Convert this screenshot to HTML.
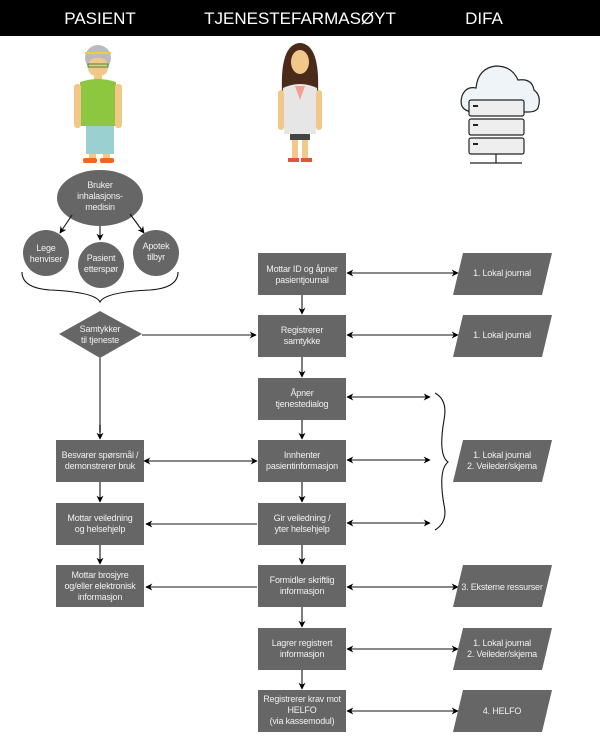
<!DOCTYPE html>
<html><head><meta charset="utf-8"><style>
html,body{margin:0;padding:0;background:#fff}
svg{display:block}
text{font-family:"Liberation Sans",sans-serif;}
.t{fill:#f0f0f0;font-size:9px;text-anchor:middle;letter-spacing:-0.2px}
.b{fill:#666}
.l{stroke:#111;stroke-width:1.1;fill:none}
.g{stroke:#666;stroke-width:1.6;fill:none}
</style></head><body>
<svg width="600" height="741" viewBox="0 0 600 741" xmlns="http://www.w3.org/2000/svg">
<defs>
<marker id="a" viewBox="0 0 10 10" refX="9" refY="5" markerWidth="7" markerHeight="7" orient="auto-start-reverse" markerUnits="userSpaceOnUse"><path d="M0,0 L10,5 L0,10 L3,5 z" fill="#000"/></marker>
</defs>
<rect x="0" y="0" width="600" height="36" fill="#000"/>
<text x="100" y="24" fill="#fff" font-size="17" text-anchor="middle">PASIENT</text>
<text x="300" y="24" fill="#fff" font-size="17" text-anchor="middle">TJENESTEFARMASØYT</text>
<text x="484" y="24" fill="#fff" font-size="17" text-anchor="middle">DIFA</text>

<g>
<circle cx="98" cy="58" r="13" fill="#bbb"/>
<rect x="88" y="58" width="20" height="18" rx="8" fill="#f2c88a"/>
<rect x="85" y="52" width="26" height="2" fill="#e8d040"/>
<rect x="88" y="64" width="20" height="3" fill="none" stroke="#3a8a3a"/>
<rect x="94" y="76" width="8" height="5" fill="#f2c88a"/>
<path d="M80 82 Q98 76 116 82 L116 126 L80 126 Z" fill="#8dc63f"/>
<rect x="74" y="84" width="7" height="44" rx="3" fill="#f2c88a"/>
<rect x="115" y="84" width="7" height="44" rx="3" fill="#f2c88a"/>
<rect x="86" y="126" width="28" height="28" fill="#9ad0d0"/>
<rect x="89" y="154" width="7" height="6" fill="#f2c88a"/><rect x="103" y="154" width="7" height="6" fill="#f2c88a"/>
<rect x="83" y="158" width="14" height="5" rx="2" fill="#f26522"/><rect x="100" y="158" width="14" height="5" rx="2" fill="#f26522"/>
</g>
<g>
<path d="M282 92 Q280 44 300 43 Q320 44 318 92 Z" fill="#4a2a18"/>
<ellipse cx="300" cy="62" rx="9" ry="12" fill="#f2c88a"/>
<path d="M283 88 Q300 80 317 88 L316 134 L284 134 Z" fill="#e6e6e6"/>
<path d="M295 86 L300 100 L305 86 Z" fill="#f4a090"/>
<rect x="278" y="90" width="6" height="40" rx="3" fill="#f2c88a"/>
<rect x="316" y="90" width="6" height="40" rx="3" fill="#f2c88a"/>
<rect x="290" y="134" width="20" height="6" fill="#444"/>
<rect x="292" y="140" width="6" height="18" fill="#f2c88a"/><rect x="302" y="140" width="6" height="18" fill="#f2c88a"/>
<rect x="288" y="158" width="11" height="4" fill="#e0553a"/><rect x="301" y="158" width="11" height="4" fill="#e0553a"/>
</g>
<g stroke="#222" stroke-width="1.2">
<path d="M472 112 Q458 110 462 96 Q466 86 476 88 Q478 68 496 66 Q512 66 518 80 Q532 78 534 90 Q542 96 538 108 Q536 112 528 112 Z" fill="#eef4f8"/>
<rect x="469" y="100" width="55" height="16" rx="2" fill="#eee"/>
<rect x="469" y="119" width="55" height="16" rx="2" fill="#eee"/>
<rect x="469" y="138" width="55" height="16" rx="2" fill="#eee"/>
<line x1="496" y1="154" x2="496" y2="163"/>
<line x1="470" y1="163" x2="522" y2="163"/>
</g>
<rect x="473" y="105" width="5" height="2" fill="#222"/><rect x="473" y="124" width="5" height="2" fill="#222"/><rect x="473" y="143" width="5" height="2" fill="#222"/>

<ellipse cx="100" cy="198" rx="43" ry="28" class="b"/>
<text class="t" x="100" y="188">Bruker</text><text class="t" x="100" y="199">inhalasjons-</text><text class="t" x="100" y="210">medisin</text>
<line class="l" x1="72" y1="215" x2="60" y2="233" marker-end="url(#a)"/>
<line class="l" x1="100" y1="226" x2="100" y2="240" marker-end="url(#a)"/>
<line class="l" x1="130" y1="214" x2="144" y2="233" marker-end="url(#a)"/>
<circle cx="46" cy="253" r="23" class="b"/><text class="t" x="46" y="251">Lege</text><text class="t" x="46" y="262">henviser</text>
<circle cx="101" cy="265" r="23" class="b"/><text class="t" x="101" y="261">Pasient</text><text class="t" x="101" y="272">etterspør</text>
<circle cx="156" cy="253" r="23" class="b"/><text class="t" x="156" y="249">Apotek</text><text class="t" x="156" y="260">tilbyr</text>
<path class="l" d="M22 272 Q22 288 50 290 Q95 292 100 302 Q105 292 150 290 Q178 288 178 272"/>
<polygon points="59,334 100,311 142,334 100,358" class="b"/>
<text class="t" x="100" y="332">Samtykker</text><text class="t" x="100" y="343">til tjeneste</text>
<line class="g" x1="142" y1="335" x2="256" y2="335" marker-end="url(#a)"/>
<line class="g" x1="100" y1="358" x2="100" y2="432"/>
<line class="l" x1="100" y1="425" x2="100" y2="439" marker-end="url(#a)"/>

<g>
<rect class="b" x="258" y="253" width="88" height="42"/><text class="t" x="302" y="272">Mottar ID og åpner</text><text class="t" x="302" y="283">pasientjournal</text>
<rect class="b" x="258" y="315" width="88" height="42"/><text class="t" x="302" y="333">Registrerer</text><text class="t" x="302" y="344">samtykke</text>
<rect class="b" x="258" y="378" width="88" height="42"/><text class="t" x="302" y="396">Åpner</text><text class="t" x="302" y="407">tjenestedialog</text>
<rect class="b" x="258" y="440" width="88" height="42"/><text class="t" x="302" y="458">Innhenter</text><text class="t" x="302" y="469">pasientinformasjon</text>
<rect class="b" x="258" y="503" width="88" height="42"/><text class="t" x="302" y="521">Gir veiledning /</text><text class="t" x="302" y="532">yter helsehjelp</text>
<rect class="b" x="258" y="565" width="88" height="42"/><text class="t" x="302" y="583">Formidler skriftlig</text><text class="t" x="302" y="594">informasjon</text>
<rect class="b" x="258" y="628" width="88" height="42"/><text class="t" x="302" y="646">Lagrer registrert</text><text class="t" x="302" y="657">informasjon</text>
<rect class="b" x="258" y="690" width="88" height="42"/><text class="t" x="302" y="702">Registrerer krav mot</text><text class="t" x="302" y="713">HELFO</text><text class="t" x="302" y="724">(via kassemodul)</text>
</g>
<g class="l">
<line x1="302" y1="295" x2="302" y2="314" marker-end="url(#a)"/>
<line x1="302" y1="357" x2="302" y2="377" marker-end="url(#a)"/>
<line x1="302" y1="420" x2="302" y2="439" marker-end="url(#a)"/>
<line x1="302" y1="482" x2="302" y2="502" marker-end="url(#a)"/>
<line x1="302" y1="545" x2="302" y2="564" marker-end="url(#a)"/>
<line x1="302" y1="607" x2="302" y2="627" marker-end="url(#a)"/>
<line x1="302" y1="670" x2="302" y2="689" marker-end="url(#a)"/>
<line x1="347" y1="273" x2="458" y2="273" marker-start="url(#a)" marker-end="url(#a)"/>
<line x1="347" y1="335" x2="458" y2="335" marker-start="url(#a)" marker-end="url(#a)"/>
<line x1="347" y1="397" x2="430" y2="397" marker-start="url(#a)" marker-end="url(#a)"/>
<line x1="347" y1="460" x2="430" y2="460" marker-start="url(#a)" marker-end="url(#a)"/>
<line x1="347" y1="523" x2="430" y2="523" marker-start="url(#a)" marker-end="url(#a)"/>
<line x1="347" y1="587" x2="458" y2="587" marker-start="url(#a)" marker-end="url(#a)"/>
<line x1="347" y1="649" x2="458" y2="649" marker-start="url(#a)" marker-end="url(#a)"/>
<line x1="347" y1="711" x2="458" y2="711" marker-start="url(#a)" marker-end="url(#a)"/>
<path d="M435 393 Q448 400 444 420 Q438 455 448 462 Q438 470 444 505 Q448 522 435 530"/>
</g>
<rect class="b" x="56" y="440" width="88" height="42"/><text class="t" x="100" y="458">Besvarer spørsmål /</text><text class="t" x="100" y="469">demonstrerer bruk</text>
<rect class="b" x="56" y="503" width="88" height="42"/><text class="t" x="100" y="521">Mottar veiledning</text><text class="t" x="100" y="532">og helsehjelp</text>
<rect class="b" x="56" y="565" width="88" height="42"/><text class="t" x="100" y="578">Mottar brosjyre</text><text class="t" x="100" y="589">og/eller elektronisk</text><text class="t" x="100" y="600">informasjon</text>
<g class="l">
<line x1="144" y1="461" x2="257" y2="461" marker-start="url(#a)" marker-end="url(#a)"/>
<line x1="100" y1="482" x2="100" y2="502" marker-end="url(#a)"/>
<line x1="100" y1="545" x2="100" y2="564" marker-end="url(#a)"/>
</g>
<line class="g" x1="257" y1="524" x2="146" y2="524" marker-end="url(#a)"/>
<line class="g" x1="257" y1="587" x2="146" y2="587" marker-end="url(#a)"/>
<g class="b">
<polygon points="463,253 552,253 542,295 453,295"/>
<polygon points="463,315 552,315 542,357 453,357"/>
<polygon points="463,440 552,440 542,482 453,482"/>
<polygon points="463,565 552,565 542,607 453,607"/>
<polygon points="463,628 552,628 542,670 453,670"/>
<polygon points="463,690 552,690 542,732 453,732"/>
</g>
<text class="t" x="502" y="276">1. Lokal journal</text>
<text class="t" x="502" y="338">1. Lokal journal</text>
<text class="t" x="502" y="458">1. Lokal journal</text><text class="t" x="502" y="469">2. Veileder/skjema</text>
<text class="t" x="502" y="590">3. Eksterne ressurser</text>
<text class="t" x="502" y="646">1. Lokal journal</text><text class="t" x="502" y="657">2. Veileder/skjema</text>
<text class="t" x="502" y="714">4. HELFO</text>
</svg>
</body></html>
